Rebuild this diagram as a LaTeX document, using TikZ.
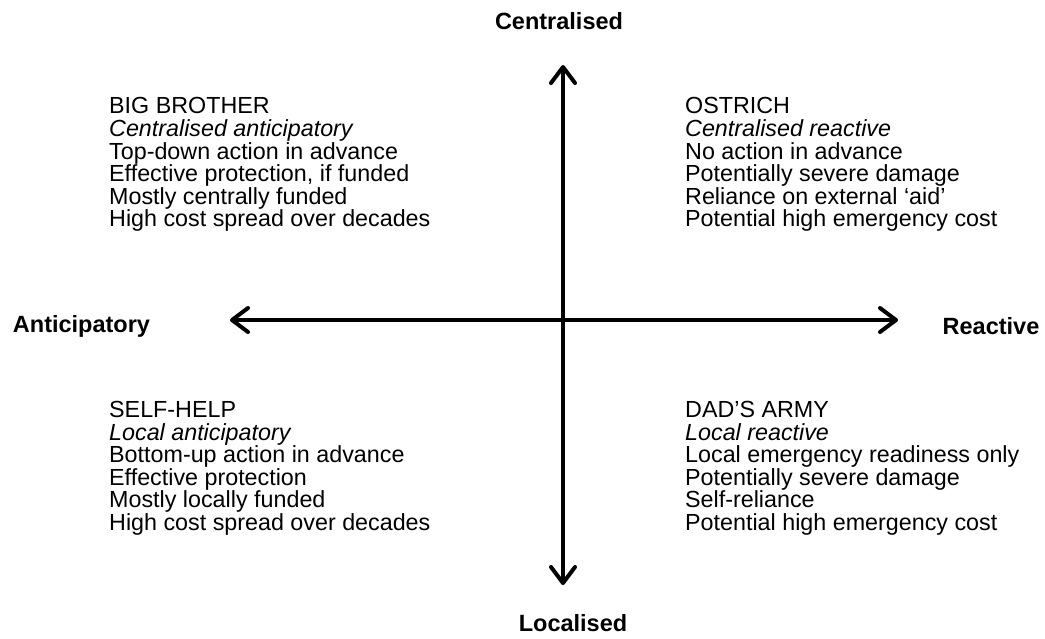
\documentclass[tikz,border=0pt]{standalone}
\usepackage{fontspec}
\setmainfont{Liberation Sans}
\usetikzlibrary{arrows.meta}
\begin{document}
\begin{tikzpicture}[x=1pt,y=-1pt,
  barb/.tip={Straight Barb[length=16pt,width=24pt,line width=4pt,round]},
  axis/.style={line width=4pt,barb-barb},
  axlabel/.style={font=\fontsize{23.5}{26}\selectfont\bfseries,inner sep=0},
  quad/.style={font=\fontsize{23.3}{22.6}\selectfont,align=left,anchor=north west,inner sep=0}]
\useasboundingbox (0,0) rectangle (1045,638);
\coordinate (top) at (563,65);
\coordinate (bot) at (563,585);
\coordinate (left) at (230,320);
\coordinate (right) at (898,320);
\draw[axis] (top) -- (bot);
\draw[axis] (left) -- (right);
\node[axlabel] (c) at (559,21) {Centralised};
\node[axlabel] (l) at (573,623) {Localised};
\node[axlabel] (a) at (81.5,326.5) {Anticipatory};
\node[axlabel] (r) at (991,326.5) {Reactive};
\node[quad] (bb) at (109,97.5) {BIG BROTHER\\\textit{Centralised anticipatory}\\Top-down action in advance\\Effective protection, if funded\\Mostly centrally funded\\High cost spread over decades};
\node[quad] (os) at (685,97.5) {OSTRICH\\\textit{Centralised reactive}\\No action in advance\\Potentially severe damage\\Reliance on external ‘aid’\\Potential high emergency cost};
\node[quad] (sh) at (109,401) {SELF-HELP\\\textit{Local anticipatory}\\Bottom-up action in advance\\Effective protection\\Mostly locally funded\\High cost spread over decades};
\node[quad] (da) at (685,401) {DAD’S ARMY\\\textit{Local reactive}\\Local emergency readiness only\\Potentially severe damage\\Self-reliance\\Potential high emergency cost};
\end{tikzpicture}
\end{document}
